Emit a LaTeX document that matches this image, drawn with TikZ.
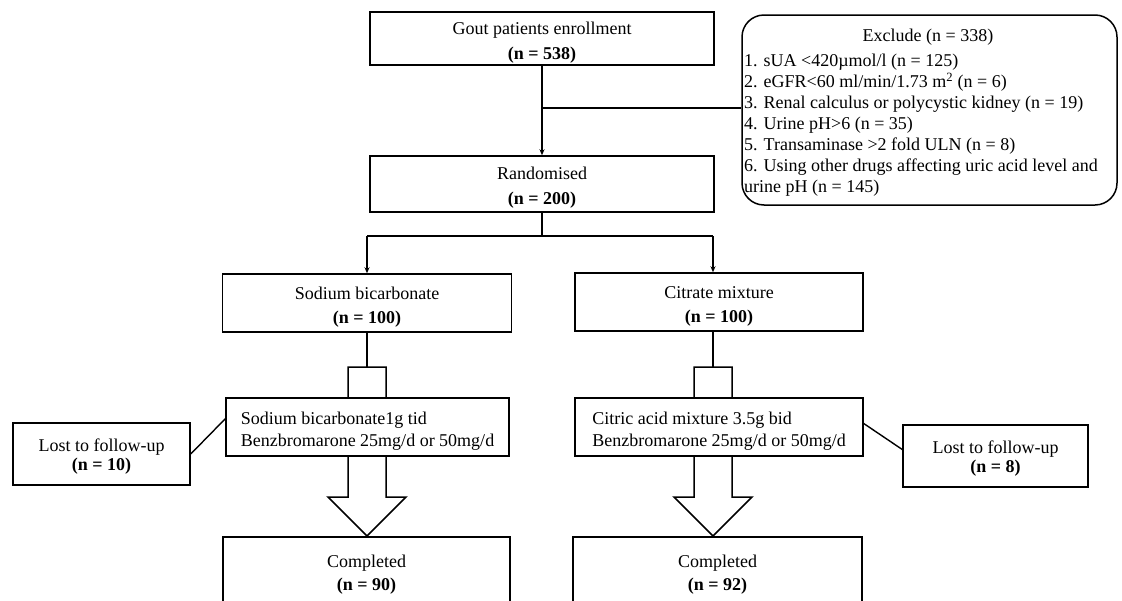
\documentclass[tikz,border=0pt]{standalone}
\usepackage{fontspec}
\setmainfont{Liberation Serif}
\usetikzlibrary{arrows.meta}
\newcommand\myTopStrut[1]{\rule{0pt}{#1}}
\tikzset{
  box/.style={draw, line width=1.5pt, fill=white, inner sep=0pt, align=center, font=\fontsize{18}{24.5}\selectfont},
  regbox/.style={draw, line width=1.5pt, fill=white, inner sep=0pt, align=left, font=\fontsize{18}{22}\selectfont},
  lostbox/.style={draw, line width=1.5pt, fill=white, inner sep=0pt, align=center, font=\fontsize{18}{19.5}\selectfont},
  conn/.style={line width=1.4pt},
  arr/.style={line width=1.4pt, -{Stealth[length=6pt,width=5pt]}},
  blockarrow/.style={draw, line width=1.5pt, fill=white, line join=miter},
  txt/.style={inner sep=0pt, font=\fontsize{18}{21}\selectfont}
}
\begin{document}
\begin{tikzpicture}[x=1pt,y=-1pt]
\useasboundingbox (0,0) rectangle (1122,600);
\clip (0,0) rectangle (1122,600);

% top boxes
\node[box, minimum width=344pt, minimum height=53pt] (enroll) at (542,38.5) {\myTopStrut{21pt}Gout patients enrollment\\\textbf{(n = 538)}};
\node[box, minimum width=344pt, minimum height=56pt] (rand) at (542,184) {\myTopStrut{19.5pt}Randomised\\\textbf{(n = 200)}};

% exclude box
\node[draw, line width=1.5pt, rounded corners=22pt, minimum width=375pt, minimum height=190pt, inner sep=0pt] (excl) at (929.5,110) {};
\node[txt] (extitle) at (928,37) {Exclude (n = 338)};
\node[txt, anchor=north west, align=left] (exlist) at (744,54) {1. sUA <420µmol/l (n = 125)\\
2. eGFR<60 ml/min/1.73 m\textsuperscript{2} (n = 6)\\
3. Renal calculus or polycystic kidney (n = 19)\\
4. Urine pH>6 (n = 35)\\
5. Transaminase >2 fold ULN (n = 8)\\
6. Using other drugs affecting uric acid level and\\
urine pH (n = 145)};

\coordinate (j1) at (542,108);
\draw[conn] (j1) -- (j1 -| excl.west);
\draw[arr] (enroll.south) -- (rand.north);

% group boxes
\node[box, minimum width=289pt, minimum height=58pt] (sodium) at (367,303) {\myTopStrut{20.5pt}Sodium bicarbonate\\\textbf{(n = 100)}};
\node[box, minimum width=288pt, minimum height=58pt] (citrate) at (719,302) {\myTopStrut{20.5pt}Citrate mixture\\\textbf{(n = 100)}};

\coordinate (bL) at (367,236);
\coordinate (bR) at (713,236);
\draw[conn] (rand.south) -- (rand.south |- bL);
\draw[conn] (bL) -- (bR);
\draw[arr] (bL) -- (bL |- sodium.north);
\draw[arr] (bR) -- (bR |- citrate.north);

% block arrows
\coordinate (aL) at (367,367);
\coordinate (aR) at (713,367);
\draw[blockarrow] (348,367) -- (386,367) -- (386,497) -- (406,497) -- (367,536) -- (328,497) -- (348,497) -- cycle;
\draw[blockarrow] (694,367) -- (732,367) -- (732,497) -- (752,497) -- (713,536) -- (674,497) -- (694,497) -- cycle;
\draw[conn] (sodium.south) -- (aL);
\draw[conn] (bR |- citrate.south) -- (aR);

% regimen boxes
\node[regbox, minimum width=283pt, minimum height=58pt] (regL) at (367.5,427) {\myTopStrut{21pt}Sodium bicarbonate1g tid\\Benzbromarone 25mg/d or 50mg/d};
\node[regbox, minimum width=288pt, minimum height=58pt] (regR) at (719,427) {\myTopStrut{21pt}Citric acid mixture 3.5g bid\\Benzbromarone 25mg/d or 50mg/d};

% completed boxes
\node[box, minimum width=287pt, minimum height=69pt, font=\fontsize{18}{23}\selectfont] (compL) at (366.5,571.5) {\myTopStrut{19pt}Completed\\\textbf{(n = 90)}};
\node[box, minimum width=289pt, minimum height=69pt, font=\fontsize{18}{23}\selectfont] (compR) at (717.5,571.5) {\myTopStrut{19pt}Completed\\\textbf{(n = 92)}};

% lost boxes
\node[lostbox, minimum width=177pt, minimum height=62pt] (lostL) at (101.5,454) {\myTopStrut{18pt}Lost to follow-up\\\textbf{(n = 10)}};
\node[lostbox, minimum width=185pt, minimum height=62pt] (lostR) at (995.5,456) {\myTopStrut{18pt}Lost to follow-up\\\textbf{(n = 8)}};

\coordinate (cL) at (226,418);
\coordinate (cR) at (863,423);
\coordinate (cR2) at (903,450);
\draw[conn] (lostL.east) -- (cL);
\draw[conn] (cR) -- (cR2);
\end{tikzpicture}
\end{document}
